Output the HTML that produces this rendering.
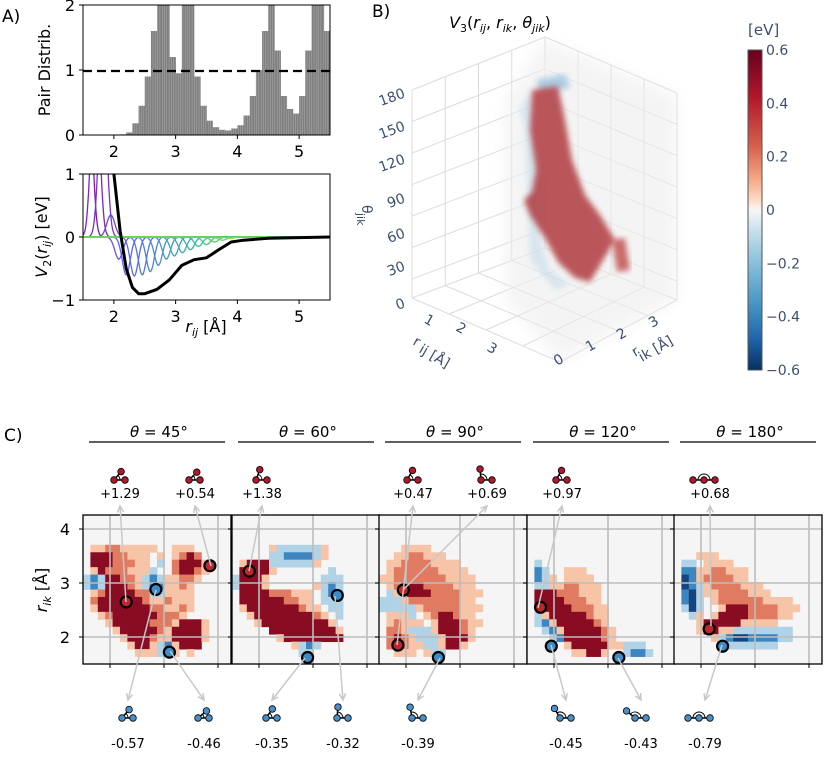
<!DOCTYPE html>
<html><head><meta charset="utf-8">
<style>
html,body{margin:0;padding:0;background:#fff;}
svg{display:block;font-family:"DejaVu Sans","Liberation Sans",sans-serif;}
</style></head>
<body>
<svg id="fig" width="830" height="767" viewBox="0 0 830 767" xmlns="http://www.w3.org/2000/svg">
  <defs>
    <clipPath id="clipA1"><rect x="83" y="5" width="247" height="130"/></clipPath>
    <clipPath id="clipA2"><rect x="83" y="174" width="247" height="126"/></clipPath>
    <linearGradient id="cbar" x1="0" y1="0" x2="0" y2="1">
      <stop offset="0" stop-color="#67001f"/><stop offset="0.15" stop-color="#b2182b"/>
      <stop offset="0.3" stop-color="#d6604d"/><stop offset="0.4" stop-color="#f4a582"/>
      <stop offset="0.47" stop-color="#fddbc7"/><stop offset="0.5" stop-color="#f7f7f7"/>
      <stop offset="0.55" stop-color="#d1e5f0"/><stop offset="0.65" stop-color="#92c5de"/>
      <stop offset="0.8" stop-color="#4393c3"/><stop offset="0.9" stop-color="#2166ac"/>
      <stop offset="1" stop-color="#053061"/>
    </linearGradient>
    <filter id="blur3"><feGaussianBlur stdDeviation="3"/></filter>
    <filter id="blur6"><feGaussianBlur stdDeviation="7"/></filter>
  </defs>

  <!-- Panel A labels -->
  <text x="2" y="22" font-size="17">A)</text>
  <text transform="translate(50,70) rotate(-90)" text-anchor="middle" font-size="16">Pair Distrib.</text>
  <text transform="translate(47,237) rotate(-90)" text-anchor="middle" font-size="16"><tspan font-style="italic">V</tspan><tspan font-size="11" dy="4">2</tspan><tspan dy="-4">(</tspan><tspan font-style="italic">r</tspan><tspan font-size="11" dy="4" font-style="italic">ij</tspan><tspan dy="-4">) [eV]</tspan></text>
  <text x="206" y="332" text-anchor="middle" font-size="16"><tspan font-style="italic">r</tspan><tspan font-size="11" dy="4" font-style="italic">ij</tspan><tspan dy="-4"> [Å]</tspan></text>

  <g id="histG" clip-path="url(#clipA1)"></g>
  <line x1="83" y1="71" x2="330" y2="71" stroke="#000" stroke-width="2.2" stroke-dasharray="9,5"/>
  <rect x="83" y="5" width="247" height="130" fill="none" stroke="#000" stroke-width="1"/>
  <g id="axA1" font-size="16"></g>

  <g id="basisG" clip-path="url(#clipA2)"></g>
  <rect x="83" y="174" width="247" height="126" fill="none" stroke="#000" stroke-width="1"/>
  <g id="axA2" font-size="16"></g>

  <!-- Panel B -->
  <text x="372" y="17" font-size="17">B)</text>
  <text x="500" y="28" text-anchor="middle" font-size="16"><tspan font-style="italic">V</tspan><tspan font-size="11" dy="4">3</tspan><tspan dy="-4">(</tspan><tspan font-style="italic">r</tspan><tspan font-size="11" dy="4" font-style="italic">ij</tspan><tspan dy="-4">, </tspan><tspan font-style="italic">r</tspan><tspan font-size="11" dy="4" font-style="italic">ik</tspan><tspan dy="-4">, </tspan><tspan font-style="italic">θ</tspan><tspan font-size="11" dy="4" font-style="italic">jik</tspan><tspan dy="-4">)</tspan></text>
  <g id="box3d" stroke="#dcdcdc" stroke-width="1" fill="none"></g>
  <g>
    <path d="M505,100 L545,40 L677,95 L677,300 L560,362 L505,300 Z" fill="#eeeeee" opacity="0.6" filter="url(#blur6)"/>
    <path d="M536,80 L565,74 L570,88 L540,92 Z" fill="#9cc3de" opacity="0.8" filter="url(#blur3)"/>
    <path d="M525,130 L520,110 L530,90 L545,200 L540,240 L550,270 L570,285 L555,290 L530,260 Z" fill="#c5dcea" opacity="0.6" filter="url(#blur3)"/>
    <path d="M532,90 L558,86 L565,120 L572,160 L585,195 L600,215 L615,240 L590,282 L575,278 L558,262 L545,238 L530,215 L524,200 L532,192 L536,170 L530,130 Z" fill="#b03a40" opacity="0.85" filter="url(#blur3)"/>
    <path d="M612,240 L625,238 L630,270 L617,272 Z" fill="#c04a48" opacity="0.8" filter="url(#blur3)"/>
  </g>
  <g id="labels3d" fill="#3d4f70" font-size="14" font-family="'DejaVu Sans',sans-serif"></g>
  <text x="748" y="35" font-size="15" fill="#3d4f70">[eV]</text>
  <rect x="748" y="50" width="14" height="320" fill="url(#cbar)" stroke="#555" stroke-width="1"/>
  <g id="cbTicks" fill="#3d4f70" font-size="14"></g>

  <!-- Panel C -->
  <text x="4" y="441" font-size="17">C)</text>
  <text transform="translate(47,590) rotate(-90)" text-anchor="middle" font-size="16"><tspan font-style="italic">r</tspan><tspan font-size="11" dy="4" font-style="italic">ik</tspan><tspan dy="-4"> [Å]</tspan></text>
  <g id="heatG"></g>
  <g id="annG"></g>
</svg>
<script>
const NS='http://www.w3.org/2000/svg';
function mk(tag,attrs,parent){const e=document.createElementNS(NS,tag);for(const k in attrs)e.setAttribute(k,attrs[k]);parent.appendChild(e);return e;}

// ---------- Panel A data ----------
const histR=[1.5,1.6,1.7,1.8,1.9,2.0,2.1,2.2,2.3,2.4,2.5,2.6,2.7,2.8,2.9,3.0,3.1,3.2,3.3,3.4,3.5,3.6,3.7,3.8,3.9,4.0,4.1,4.2,4.3,4.4,4.5,4.6,4.7,4.8,4.9,5.0,5.1,5.2,5.3,5.4];
const histG=[0,0,0,0,0,0,0.01,0.04,0.18,0.45,0.9,1.6,2.5,2.2,1.2,0.95,2.2,2.2,0.9,0.45,0.22,0.12,0.08,0.07,0.1,0.15,0.3,0.6,1.0,1.6,2.5,1.3,0.6,0.4,0.33,0.6,1.3,2.4,2.2,1.6];
const histTicks=[0,1,2];
const xTicks=[2,3,4,5];
const v2R=[1.95,2.0,2.1,2.2,2.3,2.4,2.5,2.7,2.9,3.1,3.3,3.5,3.7,3.9,4.1,4.5,5.0,5.5];
const v2V=[1.3,1.0,0.1,-0.5,-0.8,-0.9,-0.9,-0.83,-0.68,-0.45,-0.36,-0.33,-0.2,-0.08,-0.05,-0.02,-0.01,0];
const basisC=[1.58,1.7,1.82,1.95,2.08,2.2,2.33,2.46,2.59,2.72,2.85,2.98,3.11,3.24,3.37,3.5,3.63,3.76,3.89];
const basisA=[3,3,2.5,0.35,-0.35,-0.6,-0.62,-0.6,-0.55,-0.45,-0.35,-0.3,-0.25,-0.2,-0.15,-0.12,-0.08,-0.05,-0.02];
const v2Ticks=[-1,0,1];

const xA=r=>83+(r-1.5)*61.75;
const yA1=g=>135-g*65;
const yA2=v=>237-v*63;

const hg=document.getElementById('histG');
histR.forEach((r,i)=>{
  const b=mk('rect',{x:xA(r),y:yA1(histG[i]),width:61.75*0.1+0.3,height:135-yA1(histG[i]),fill:'#808080'},hg);
  
  
});
// thin bar texture
for(let x=84;x<330;x+=2.3){mk('line',{x1:x,y1:5,x2:x,y2:135,stroke:'#fff','stroke-width':0.35,opacity:0.5},hg);}

function axes(g,ticksY,yf,left,bottom){
  const ax=document.getElementById(g);
  ticksY.forEach(t=>{mk('line',{x1:left-4,y1:yf(t),x2:left,y2:yf(t),stroke:'#000'},ax);
    const tx=mk('text',{x:left-8,y:yf(t)+6,'text-anchor':'end'},ax);tx.textContent=(t<0?'−':'')+Math.abs(t);
    });
  xTicks.forEach(t=>{mk('line',{x1:xA(t),y1:bottom,x2:xA(t),y2:bottom+4,stroke:'#000'},ax);
    const tx=mk('text',{x:xA(t),y:bottom+22,'text-anchor':'middle'},ax);tx.textContent=t;
    });
}
axes('axA1',histTicks,yA1,83,135);
axes('axA2',v2Ticks,yA2,83,300);

const bg=document.getElementById('basisG');
function basisColor(i){const t=i/(basisC.length-1);
  const stops=[[130,20,190],[95,95,235],[70,140,215],[50,185,160],[120,225,60]];
  const s=t*(stops.length-1),k=Math.min(Math.floor(s),stops.length-2),f=s-k;
  const c=stops[k].map((v,j)=>Math.round(v+(stops[k+1][j]-v)*f));return `rgb(${c})`;}
basisC.forEach((c,i)=>{
  let d='';for(let r=1.5;r<=5.5;r+=0.01){const v=basisA[i]*Math.exp(-Math.pow(r-c,2)/(2*0.065*0.065));d+=(d?'L':'M')+xA(r).toFixed(1)+','+yA2(v).toFixed(1);}
  const p=mk('path',{d:d,fill:'none',stroke:basisColor(i),'stroke-width':1.3},bg);
  
  
});
let dv='';v2R.forEach((r,i)=>{dv+=(i?'L':'M')+xA(r).toFixed(1)+','+yA2(v2V[i]).toFixed(1);});
const v2p=mk('path',{d:dv,fill:'none',stroke:'#000','stroke-width':3,'stroke-linejoin':'round'},bg);



// ---------- Panel B ----------
const box=document.getElementById('box3d');
const L=[412,90],Lb=[412,298],B=[545,37],Bb=[545,248],R=[677,93],Rb=[677,300],F=[560,362];
function ln(a,b){mk('line',{x1:a[0],y1:a[1],x2:b[0],y2:b[1]},box);}
ln(L,B);ln(B,R);ln(L,Lb);ln(B,Bb);ln(R,Rb);ln(Lb,Bb);ln(Bb,Rb);ln(Lb,F);ln(Rb,F);
for(let k=1;k<7;k++){const f=k/6.6;ln([412,90+f*208],[545,37+f*211]);ln([545,37+f*211],[677,93+f*207]);}
for(let k=1;k<4;k++){const f=k/4;ln([412+f*133,90-f*53],[412+f*133,298-f*50]);ln([545+f*132,37+f*56],[545+f*132,248+f*52]);
  ln([412+f*148,298+f*64],[545+f*132,248+f*52]);ln([677-f*117,300+f*62],[545-f*133,248+f*50]);}
const thetaTicks=[180,150,120,90,60,30,0];
const thetaY=[97,130,163,202,237,270,307];
const l3=document.getElementById('labels3d');
thetaTicks.forEach((t,i)=>{const tx=mk('text',{x:406,y:thetaY[i],'text-anchor':'end',transform:`rotate(-20 406 ${thetaY[i]})`},l3);tx.textContent=t;
  });
const lab=(txt,x,y,rot,name)=>{const t=mk('text',{x:x,y:y,transform:`rotate(${rot} ${x} ${y})`},l3);t.textContent=txt;return t;};
lab('θ',362,205,90,'theta-axis-title');lab('jik',357,213,90,'theta-axis-sub').setAttribute('font-size','11');
lab('1',423,322,30,'rij-tick-label');lab('2',455,330,30,'rij-tick-label');lab('3',486,350,30,'rij-tick-label');
lab('r',412,344,30,'rij-axis-title');lab('ij  [Å]',418,352,30,'rij-axis-title-sub');
lab('0',557,366,-30,'rik-tick-label');lab('1',589,352,-30,'rik-tick-label');lab('2',620,340,-30,'rik-tick-label');lab('3',652,328,-30,'rik-tick-label');
lab('r',635,357,-30,'rik-axis-title');lab('ik  [Å]',642,362,-30,'rik-axis-title-sub');
const cbVals=[0.6,0.4,0.2,0,-0.2,-0.4,-0.6];
const cbt=document.getElementById('cbTicks');
cbVals.forEach(v=>{const y=210-v*266.7;const t=mk('text',{x:766,y:y+5},cbt);t.textContent=(v<0?'−':'')+Math.abs(v);
  });

// ---------- Panel C heatmaps ----------
const thetas=['45°','60°','90°','120°','180°'];
const panelX=[83,232,379,527,674];
const cellCodes='.abrRBD';
const cellColors={'.':'#f5f5f5','a':'#f8c4a8','r':'#e07a60','R':'#8a0c22','b':'#b1d3e8','B':'#3d86bf','D':'#15457e'};
const map45=['....................','....................','....................','....................',
'.aarraaaaa..aaa.....','.RRRrraaa.a.arRr....','.RRRrrraa.b.rRRRa...','.aRrrraaab..rRRra...',
'bBbRRrrabBbaarra....','bBbRRRrabBBaara.....','.arRRRRrrbbaaaa.....','.rRRRRRRraaraaa.....',
'.aRRRRRRRrraara.....','..arRRRRRRrrra......','...aRRRRRrrraRRRa...','....aRRRRRraRRRRa...',
'.....aRRRraaRRRRa...','......aRRabBaRRR....','.......aaabBa.a.....','....................'];
const map60=['....................','....................','....................','....................',
'.....abbbbbba.......','.....bbBBBBba.......','.aRRRbbbbbba........','.RRRRa.......b......',
'bRRRa.......bbb.....','bRRRa......abBb.....','.RRRRrrraaa.bBb.....','.RRRRRRrraa.bbb.....',
'.aRRRRRRRraa.bb.....','..aRRRRRRRRra.b.....','...aRRRRRRRRRa......','.....RRRRRRRRRa.....',
'......aRRRRRRRR.....','........abBb........','.........bb.........','....................'];
const map90=['....................','....................','....................','....................',
'...aaaa.............','..aarraaa...........','.aarrrraaaa.........','.arrrrrraaaa........',
'aarrrrrrraaaa.......','.arRRRrrrraaa.......','.baRRRRrrrraaa......','bbbarrrrrrraa.......',
'bbbbbarrrrraaa......','.aaab.arRRraa.......','.araaa.aRRRraa......','.rrabbbaRRRra.......',
'.rRrabbbaRRRa.......','.rRraabbaRRa........','..aaa.abb...........','....................'];
const map120=['....................','....................','....................','....................',
'....................','....................','.b..................','.Bb..aaa............',
'.Bba.aaaa...........','.bbaarraaa..........','.RRRrrraaa..........','.RRRRrrraa..........',
'.aRRRRrrraa.........','.baRRRRRraa.........','.bBaRRRRRra.........','..bBaRRRRRra........',
'...bBRRRRRra........','.....aRRRRRaabbb....','......aaRRa..bBBb...','....................'];
const map180=['....................','....................','....................','....................',
'....................','...aaa..............','.bb.aaaa............','.BBaarraaa..........',
'.DBarrrraa..........','.DBbarrrraaa........','.BDbaarrrraaa.......','.BDb.arrrrrraaaa....',
'.bDb..aRRRrrrraaa...','..ba.aRRRRrrrraa....','...aRRRRRaaaaa......','...aRRaabbbbbbbb....',
'.....abBDDBBBBbb....','......bbbbbbbb......','....................','....................'];
const maps=[map45,map60,map90,map120,map180];
const rTicks=[2,3,4];
const redPts=[[[2.3,2.65],[3.85,3.32]],[[1.82,3.22]],[[1.85,1.85],[1.95,2.87]],[[1.75,2.55]],[[2.15,2.15]]];
const bluePts=[[[2.85,2.88],[3.1,1.72]],[[2.9,1.62],[3.45,2.77]],[[2.6,1.62]],[[1.95,1.83],[3.2,1.62]],[[2.4,1.83]]];

const PW=148,PY0=515,PH=149,S=54;
const yC=r=>664-(r-1.5)*S;
const hgC=document.getElementById('heatG');
maps.forEach((m,p)=>{
  const x0=panelX[p];const xC=r=>x0+(r-1.5)*S;
  const g=mk('g',{},hgC);
  
  
  mk('rect',{x:x0,y:PY0,width:PW,height:PH,fill:'#f5f5f5'},g);
  const cw=PW/20,ch=PH/20;
  m.forEach((row,ri)=>{for(let ci=0;ci<row.length;ci++){const c=row[ci];if(c==='.')continue;
    const cell=mk('rect',{x:x0+ci*cw,y:PY0+ri*ch,width:cw+0.4,height:ch+0.4,fill:cellColors[c]},g);
    
    }});
  rTicks.forEach(t=>{mk('line',{x1:x0,y1:yC(t),x2:x0+PW,y2:yC(t),stroke:'#bdbdbd','stroke-width':1.6},g);
    mk('line',{x1:xC(t),y1:PY0,x2:xC(t),y2:PY0+PH,stroke:'#bdbdbd','stroke-width':1.6},g);
    mk('line',{x1:x0,y1:yC(t),x2:x0-4,y2:yC(t),stroke:'#000'},g);
    mk('line',{x1:xC(t),y1:PY0+PH,x2:xC(t),y2:PY0+PH+4,stroke:'#000'},g);});
  mk('rect',{x:x0,y:PY0,width:PW,height:PH,fill:'none',stroke:'#000','stroke-width':1.3},g);
  // title
  const tt=mk('text',{x:x0+PW/2+2,y:437,'text-anchor':'middle','font-size':15},hgC);
  tt.innerHTML='<tspan font-style="italic">θ</tspan> = '+thetas[p];
  
  mk('line',{x1:x0+6,y1:442,x2:x0+PW-6,y2:442,stroke:'#000','stroke-width':1.3},hgC);
  redPts[p].forEach(pt=>{const c=mk('circle',{cx:xC(pt[0]),cy:yC(pt[1]),r:5.5,fill:'#c0262e',stroke:'#000','stroke-width':2.2},g);
    });
  bluePts[p].forEach(pt=>{const c=mk('circle',{cx:xC(pt[0]),cy:yC(pt[1]),r:5.5,fill:'#3c8cc8',stroke:'#000','stroke-width':2.2},g);
    });
});
['2','3','4'].forEach(t=>{const tx=mk('text',{x:70,y:yC(+t)+6,'text-anchor':'end','font-size':16},hgC);tx.textContent=t;
  });

// annotations
const topLabels=['+1.29','+0.54','+1.38','+0.47','+0.69','+0.97','+0.68'];
const topLX=[120,195,262,413,487,562,710];
const topFrom=[[126,602],[211,566],[249,571],[397,645],[403,590],[538,608],[711,626]];
const topAng=[50,45,70,60,95,60,180];
const botLabels=['-0.57','-0.46','-0.35','-0.32','-0.39','-0.45','-0.43','-0.79'];
const botLX=[128,204,272,343,418,566,641,705];
const botFrom=[[156,590],[170,651],[305,658],[335,596],[440,658],[551,645],[618,658],[722,645]];
const botAng=[50,40,55,85,100,120,140,180];
const ann=document.getElementById('annG');
function arrow(x1,y1,x2,y2){mk('line',{x1:x1,y1:y1,x2:x2,y2:y2,stroke:'#c8c8c8','stroke-width':1.5},ann);
  const a=Math.atan2(y2-y1,x2-x1),s=7;
  mk('path',{d:`M${x2-s*Math.cos(a-0.45)},${y2-s*Math.sin(a-0.45)} L${x2},${y2} L${x2-s*Math.cos(a+0.45)},${y2-s*Math.sin(a+0.45)}`,fill:'none',stroke:'#c8c8c8','stroke-width':1.5},ann);}
function mol(cx,cy,ang,col){const g=mk('g',{},ann);
  
  const x1=cx+11,y1=cy, a=ang*Math.PI/180, x2=cx+11*Math.cos(a), y2=cy-11*Math.sin(a);
  mk('line',{x1:cx,y1:cy,x2:x1,y2:y1,stroke:'#000','stroke-width':1.5},g);
  mk('line',{x1:cx,y1:cy,x2:x2,y2:y2,stroke:'#000','stroke-width':1.5},g);
  mk('path',{d:`M${cx+6},${cy} A6,6 0 0 0 ${cx+6*Math.cos(a)},${cy-6*Math.sin(a)}`,fill:'none',stroke:'#000','stroke-width':1},g);
  [[cx,cy],[x1,y1],[x2,y2]].forEach(p=>mk('circle',{cx:p[0],cy:p[1],r:3.3,fill:col,stroke:'#000','stroke-width':0.8},g));}
topLabels.forEach((t,i)=>{const tx=mk('text',{x:topLX[i],y:498,'text-anchor':'middle','font-size':13},ann);tx.textContent=t;
  
  arrow(topFrom[i][0],topFrom[i][1],topLX[i],506);mol(topLX[i]-6,480,topAng[i],'#b2182b');});
botLabels.forEach((t,i)=>{const tx=mk('text',{x:botLX[i],y:748,'text-anchor':'middle','font-size':13},ann);tx.textContent=t;
  
  arrow(botFrom[i][0],botFrom[i][1],botLX[i],700);mol(botLX[i]-6,718,botAng[i],'#4a90c8');});
</script>
</body></html>
